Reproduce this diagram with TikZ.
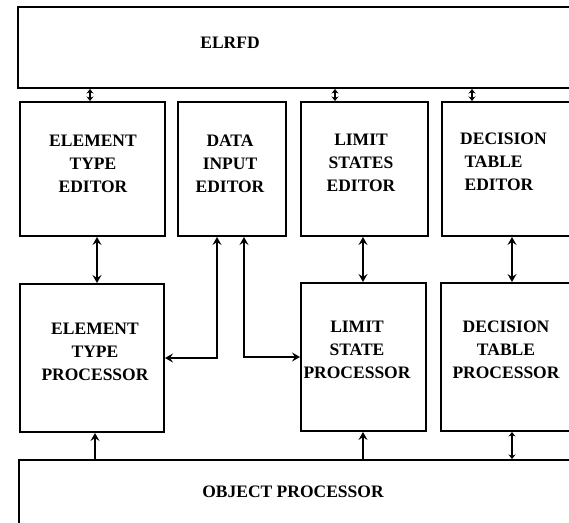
\documentclass[tikz,border=0pt]{standalone}
\usepackage{fontspec}
\setmainfont{Liberation Serif}
\usetikzlibrary{arrows.meta}
\begin{document}
\begin{tikzpicture}[x=1pt,y=-1pt,
  box/.style={draw,line width=2pt,inner sep=0pt,rectangle},
  lbl/.style={inner sep=0pt,align=center,font=\fontsize{17.5}{23}\selectfont\bfseries},
  conn/.style={line width=2pt,arrows={Stealth[length=8pt,width=9pt,inset=3pt]-Stealth[length=8pt,width=9pt,inset=3pt]}},
  shortconn/.style={line width=2pt,arrows={Stealth[length=4.5pt,width=7pt,inset=1.5pt]-Stealth[length=4.5pt,width=7pt,inset=1.5pt]}},
  uni/.style={line width=2pt,arrows={-Stealth[length=8pt,width=9pt,inset=3pt]}}]
\clip (0,0) rectangle (569,522);
\fill[white] (0,0) rectangle (569,522);
% boxes
\node[box,minimum width=582pt,minimum height=81pt] (elrfd) at (309,47.5) {};
\node[box,minimum width=145pt,minimum height=134pt] (ete) at (92.5,169) {};
\node[box,minimum width=108pt,minimum height=134pt] (die) at (232,169) {};
\node[box,minimum width=127pt,minimum height=134pt] (lse) at (364.5,169) {};
\node[box,minimum width=178pt,minimum height=134pt] (dte) at (531,169) {};
\node[box,minimum width=144pt,minimum height=148pt] (etp) at (92,358) {};
\node[box,minimum width=125pt,minimum height=148pt] (lsp) at (363.5,357) {};
\node[box,minimum width=179pt,minimum height=148pt] (dtp) at (530.5,357) {};
\node[box,minimum width=601pt,minimum height=100pt] (op) at (319.5,510) {};
% labels
\node[lbl] (telrfd) at (230,43) {ELRFD};
\node[lbl] (tete) at (93,164) {ELEMENT\\TYPE\\EDITOR};
\node[lbl] (tdie) at (230,164) {DATA\\INPUT\\EDITOR};
\node[lbl] (tlse) at (361,163) {LIMIT\\STATES\\EDITOR};
\node[lbl,align=left,anchor=west] (tdte) at (460,162) {DECISION\\\ TABLE\\\ EDITOR};
\node[lbl] (tetp) at (95,352) {ELEMENT\\TYPE\\PROCESSOR};
\node[lbl] (tlsp) at (357,350) {LIMIT\\STATE\\PROCESSOR};
\node[lbl] (tdtp) at (506,350) {DECISION\\TABLE\\PROCESSOR};
\node[lbl] (top) at (293,492) {OBJECT PROCESSOR};
% connector anchor coordinates
\coordinate (a1) at ([xshift=-2.5pt]ete.north);
\coordinate (a2) at ([xshift=-29.5pt]lse.north);
\coordinate (a3) at ([xshift=-59pt]dte.north);
\coordinate (b1) at ([xshift=4.5pt]ete.south);
\coordinate (b2) at ([xshift=-1.5pt]lse.south);
\coordinate (b3) at ([xshift=-19pt]dte.south);
\coordinate (d1) at ([xshift=-15pt]die.south);
\coordinate (d2) at ([xshift=12pt]die.south);
\coordinate (c1) at ([xshift=3pt]etp.south);
\coordinate (c2) at ([xshift=-0.5pt]lsp.south);
\coordinate (c3) at ([xshift=-18.5pt]dtp.south);
% connectors
\draw[shortconn] (elrfd.south -| a1) -- (a1);
\draw[shortconn] (elrfd.south -| a2) -- (a2);
\draw[shortconn] (elrfd.south -| a3) -- (a3);
\draw[conn] (b1) -- (b1 |- etp.north);
\draw[conn] (b2) -- (b2 |- lsp.north);
\draw[conn] (b3) -- (b3 |- dtp.north);
\draw[conn] (d1) |- (etp.east);
\draw[conn] (d2) |- (lsp.west);
\draw[uni] (op.north -| c1) -- (c1);
\draw[uni] (op.north -| c2) -- (c2);
\draw[shortconn] (op.north -| c3) -- (c3);
\end{tikzpicture}
\end{document}
